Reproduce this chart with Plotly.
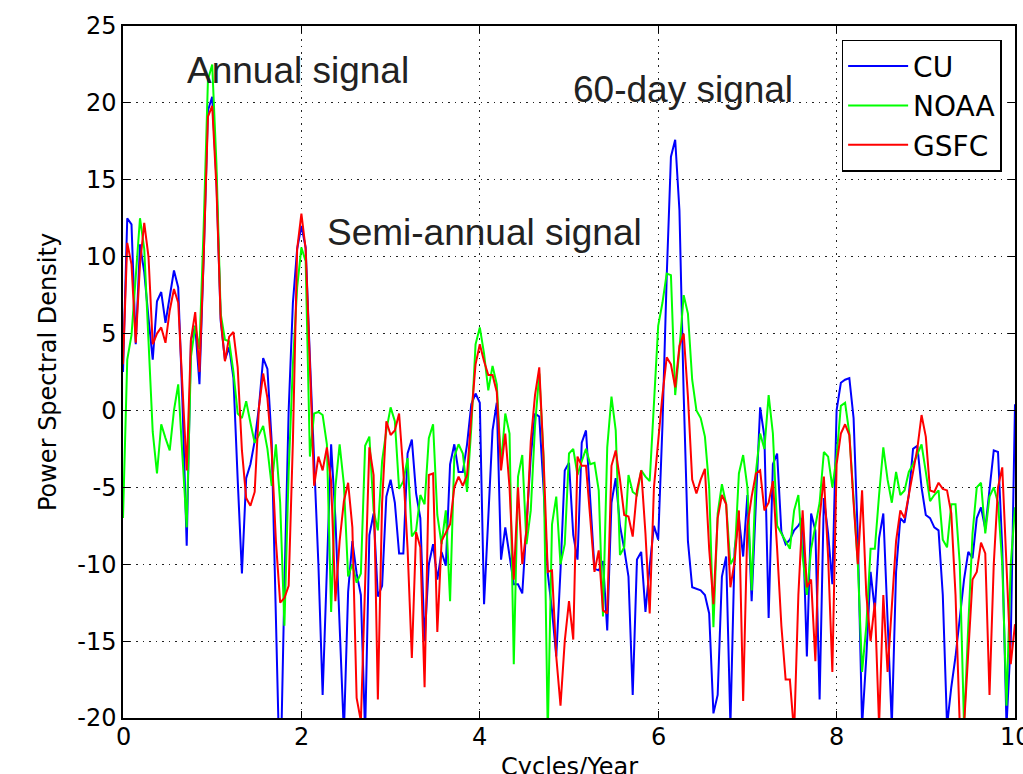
import plotly.graph_objects as go

# ---- data ----
freq_step = 1.0 / 21.0   # cycles/year per spectral bin

cu = [
    2.5, 12.5, 12.1, 4.3, 10.8, 9.0, 6.0, 3.3, 7.1, 7.7,
    5.7, 7.3, 9.1, 8.0, 0.5, -8.8, 4.6, 5.5, 1.7, 10.0,
    19.5, 20.4, 15.0, 5.8, 3.3, 4.1, 2.1, -4.5, -10.6, -4.4,
    -3.5, -2.0, 0.2, 3.4, 2.7, -2.0, -14.7, -25.0, -11.5, 0.0,
    7.0, 10.5, 12.0, 10.6, 3.4, -3.0, -10.0, -18.5, -10.0, -2.2,
    -7.0, -14.0, -21.0, -11.8, -8.5, -10.6, -12.0, -21.0, -8.1, -6.7,
    -12.1, -11.4, -5.6, -4.5, -6.0, -9.3, -9.3, -2.8, -1.9, -5.4,
    -7.0, -15.0, -10.0, -8.7, -11.0, -9.2, -10.1, -3.5, -2.2, -4.0,
    -4.0, -2.2, 0.4, 1.1, 0.5, -12.6, -7.0, -1.3, 0.5, -9.7,
    -7.6, -9.5, -11.3, -11.3, -11.9, -7.4, -3.0, -0.2, -0.4, -5.0,
    -10.6, -13.0, -16.0, -10.4, -3.9, -3.4, -8.1, -9.7, -2.1, -1.3,
    -5.5, -10.3, -10.4, -9.8, -14.3, -6.0, -4.4, -7.5, -9.0, -10.8,
    -18.5, -9.7, -9.2, -13.1, -10.1, -7.5, -8.4, -1.0, 8.7, 16.5,
    17.6, 13.0, 1.0, -8.5, -11.5, -11.6, -11.7, -12.0, -13.2, -19.7,
    -18.5, -10.8, -9.5, -20.5, -9.0, -7.0, -9.5, -5.5, -12.4, -6.0,
    0.2, -1.7, -13.5, -3.5, -2.8, -7.9, -8.7, -8.4, -7.8, -7.5,
    -7.0, -16.0, -6.7, -7.8, -18.8, -5.7, -8.0, -11.3, 0.0, 1.8,
    2.0, 2.1, -0.5, -8.3, -20.5, -16.0, -10.5, -13.0, -8.3, -6.7,
    -13.5, -20.5, -10.5, -7.0, -7.3, -5.5, -2.5, -2.3, -5.0, -6.8,
    -7.0, -7.6, -7.8, -12.0, -20.5, -18.0, -16.0, -13.5, -11.0, -9.2,
    -9.6, -7.0, -6.3, -7.7, -5.0, -2.6, -2.7, -9.0, -20.5, -15.0,
    0.4,
]

noaa = [
    -7.0, 3.3, 4.9, 9.0, 12.5, 10.5, 4.5, -1.4, -4.1, -0.9,
    -1.8, -2.6, 0.0, 1.7, -3.0, -7.6, 3.5, 5.5, 4.0, 12.0,
    21.5, 22.5, 16.0, 6.3, 4.6, 4.5, 2.5, -0.2, -0.5, 0.6,
    -0.8, -2.1, -1.6, -1.0, -2.5, -4.9, -2.2, -6.0, -14.0, -4.0,
    3.0, 8.0, 10.6, 9.7, -3.0, -0.2, -0.1, -0.3, -2.2, -13.1,
    -5.0, -2.2, -4.8, -10.8, -10.0, -11.2, -10.6, -2.3, -1.7, -6.5,
    -7.8, -3.3, -1.3, 0.2, -0.7, -5.1, -4.6, -3.1, -8.2, -7.8,
    -5.5, -6.1, -1.8, -0.9, -6.8, -8.7, -6.5, -12.4, -3.0, -2.2,
    -2.8, -5.3, -1.1, 4.3, 5.4, 3.7, 1.3, 2.9, 1.7, -3.5,
    -0.2, -1.5, -16.5, -4.3, -2.9, -8.7, -6.5, -1.0, 2.4, -3.0,
    -21.0, -7.4, -5.6, -10.0, -8.7, -2.8, -2.5, -4.2, -3.3, -2.5,
    -3.5, -3.4, -5.2, -13.4, -2.4, 0.9, -1.3, -9.4, -8.9, -4.2,
    -5.3, -5.5, -3.9, -4.3, -4.6, 0.5, 5.5, 7.0, 8.9, 8.8,
    1.0, 4.0, 7.5, 6.3, 2.0, 0.0, -0.5, -1.7, -5.0, -14.1,
    -6.7, -4.8, -6.1, -10.0, -9.5, -4.1, -2.9, -5.0, -11.7, -4.0,
    -1.5, -2.5, 1.0, -1.5, -7.5, -8.0, -8.5, -9.0, -6.5, -5.5,
    -9.5, -12.0, -9.0, -7.5, -6.0, -2.7, -3.0, -5.0, -3.0, 0.3,
    0.5, -1.5, -6.0, -10.0, -17.0, -14.0, -9.0, -9.0, -5.5, -2.4,
    -4.5, -6.0, -4.0, -5.5, -5.2, -4.0, -3.5, -2.8, -2.2, -4.0,
    -5.9, -5.5, -5.2, -8.4, -8.9, -6.1, -6.1, -10.0, -20.5, -14.0,
    -8.0, -5.0, -4.7, -8.0, -5.6, -5.0, -6.0, -10.0, -19.2, -10.0,
    -6.3,
]

gsfc = [
    3.0, 10.9, 9.5, 4.4, 9.5, 12.2, 10.0, 4.3, 5.0, 5.4,
    4.4, 6.5, 7.9, 7.0, 1.5, -3.9, 4.6, 6.4, 2.5, 10.0,
    19.1, 19.8, 14.5, 6.0, 3.2, 4.8, 5.1, 2.8, -2.6, -5.7,
    -6.2, -5.3, 0.2, 2.4, 0.8, -2.6, -8.5, -12.5, -12.2, -11.4,
    -2.0, 10.5, 12.8, 10.5, 3.0, -4.9, -3.0, -3.9, -2.4, -4.6,
    -12.4, -8.5, -5.9, -4.7, -7.6, -18.7, -20.2, -11.0, -2.4, -4.2,
    -18.8, -6.0, -0.7, -1.6, -1.3, -0.2, -4.0, -9.0, -16.1, -7.9,
    -8.9, -18.0, -4.2, -4.1, -14.4, -8.5, -8.0, -7.4, -5.0, -4.3,
    -4.9, -4.2, -0.4, 3.0, 4.3, 3.2, 2.3, 2.3, 1.2, -3.9,
    -1.5, -5.0, -11.0, -5.0, -10.0, -7.8, -2.0, 1.0, 2.8, -3.0,
    -10.5, -10.4, -16.0, -19.2, -15.0, -12.4, -14.9, -3.0, -3.6, -3.6,
    -7.0, -10.5, -9.1, -13.0, -13.2, -3.6, -2.6, -4.5, -6.8, -6.9,
    -8.2, -5.2, -3.9, -8.0, -13.2, -5.0, -2.0, 1.0, 3.45, 3.0,
    1.5, 4.2, 5.0, 0.9, -4.5, -5.4, -4.5, -3.8, -9.0, -12.6,
    -7.0, -5.5, -6.1, -11.5, -9.8, -6.5, -18.9, -7.5, -5.6, -4.1,
    -3.9, -6.5, -6.0, -4.6, -9.0, -14.0, -17.5, -17.5, -21.0, -12.0,
    -6.5, -11.5, -11.0, -16.3, -7.0, -4.3, -9.5, -17.0, -3.5, -1.5,
    -0.9, -1.6, -6.0, -10.0, -5.2, -12.0, -15.0, -12.5, -20.5, -12.0,
    -17.0, -13.0, -8.5, -6.5, -7.0, -5.5, -4.0, -2.5, -0.3, -1.7,
    -5.2, -5.3, -4.7, -5.1, -5.2, -6.7, -12.0, -20.5, -20.5, -16.0,
    -11.0, -10.5, -8.6, -9.3, -18.5, -10.0, -5.0, -3.7, -10.0, -16.5,
    -13.9,
]

series_names = ["CU", "NOAA", "GSFC"]
series_colors = ["#0000ff", "#00ff00", "#ff0000"]

x_tick_values = [0, 2, 4, 6, 8, 10]
x_tick_labels = ["0", "2", "4", "6", "8", "10"]
y_tick_values = [-20, -15, -10, -5, 0, 5, 10, 15, 20, 25]
y_tick_labels = ["-20", "-15", "-10", "-5", "0", "5", "10", "15", "20", "25"]

x_title = "Cycles/Year"
y_title = "Power Spectral Density"

note_texts = ["Annual signal", "60-day signal", "Semi-annual signal"]
note_x = [0.70, 5.02, 2.27]
note_y = [22.1, 20.9, 11.6]

freqs = [i * freq_step for i in range(len(cu))]

fig = go.Figure()
for name, color, vals in zip(series_names, series_colors, [cu, noaa, gsfc]):
    fig.add_trace(go.Scatter(
        x=freqs, y=vals, mode="lines", name=name,
        line=dict(color=color, width=2),
    ))

axis_font = dict(family="DejaVu Sans", size=24, color="black")
common_axis = dict(
    showline=True, linecolor="black", linewidth=1.5, mirror="ticks",
    ticks="inside", ticklen=7, tickwidth=1, tickcolor="black",
    showgrid=True, gridcolor="#222222", gridwidth=1, griddash="1.5px,5px",
    zeroline=False, tickfont=axis_font, automargin=False,
)

fig.update_layout(
    width=1023, height=774,
    margin=dict(l=123, r=8, t=26, b=56),
    paper_bgcolor="white", plot_bgcolor="white",
    xaxis=dict(range=[0, 10], tickmode="array", tickvals=x_tick_values,
               ticktext=x_tick_labels, showticklabels=False,
               **common_axis),
    yaxis=dict(range=[-20, 25], tickmode="array", tickvals=y_tick_values,
               ticktext=y_tick_labels,
               title=dict(text=y_title, font=axis_font, standoff=14),
               **common_axis),
    legend=dict(x=0.985, y=0.98, xanchor="right", yanchor="top",
                bgcolor="white", bordercolor="black", borderwidth=1.5,
                font=dict(family="DejaVu Sans", size=28, color="black"),
                itemwidth=60, tracegroupgap=0),
    showlegend=True,
)

# x tick labels drawn as text so the last one ("10") is cut by the page edge like the reference
for v, lab in zip(x_tick_values, x_tick_labels):
    fig.add_annotation(x=v, y=0, xref="x", yref="paper", text=lab, showarrow=False,
                       xanchor="center", yanchor="top", yshift=-3,
                       font=axis_font)

# x axis title, placed low like the reference
fig.add_annotation(x=0.5, y=0, xref="paper", yref="paper", text=x_title,
                   showarrow=False, xanchor="center", yanchor="top", yshift=-33,
                   font=axis_font)

for t, xx, yy in zip(note_texts, note_x, note_y):
    fig.add_annotation(x=xx, y=yy, xref="x", yref="y", text=t, showarrow=False,
                       xanchor="left", yanchor="middle",
                       font=dict(family="Liberation Sans", size=37, color="#222222"))

fig.write_html("out.html")
